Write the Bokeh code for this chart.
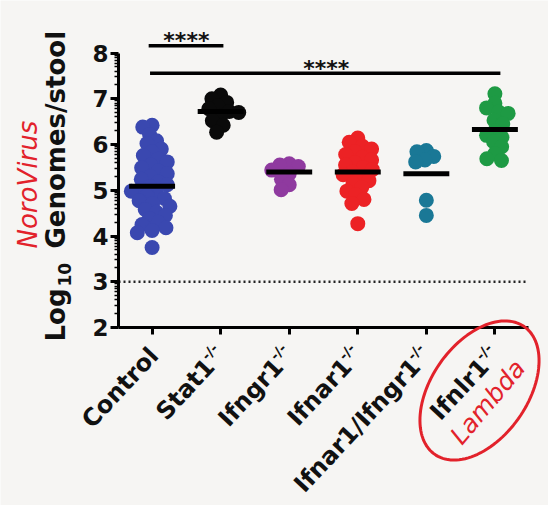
import math
import numpy as np
from bokeh.plotting import figure
from bokeh.models import Range1d, FixedTicker, Label, PolyAnnotation
from bokeh.embed import file_html
from bokeh.resources import INLINE

# ---------------- data ----------------
groups = ["Control", "Stat1", "Ifngr1", "Ifnar1", "Ifnar1/Ifngr1", "Ifnlr1"]
group_sup = ["", "-/-", "-/-", "-/-", "-/-", "-/-"]

control = [6.42, 6.38, 6.22, 6.08, 6.02, 5.90, 5.84, 5.76, 5.68, 5.62, 5.55, 5.49,
           5.42, 5.36, 5.30, 5.24, 5.18, 5.12, 5.08, 5.03, 4.98, 4.93, 4.88, 4.82,
           4.77, 4.71, 4.65, 4.58, 4.52, 4.45, 4.38, 4.30, 4.25, 4.18, 4.12, 4.07, 3.75]
stat1 = [7.08, 7.00, 6.92, 6.84, 6.78, 6.72, 6.70, 6.62, 6.52, 6.42, 6.27]
ifngr1 = [5.58, 5.55, 5.52, 5.44, 5.36, 5.24, 5.12, 5.01]
ifnar1 = [6.14, 6.05, 5.96, 5.90, 5.84, 5.78, 5.72, 5.66, 5.60, 5.55, 5.50, 5.45,
          5.40, 5.34, 5.28, 5.21, 5.14, 5.06, 4.98, 4.90, 4.80, 4.71, 4.27]
ifnar1_ifngr1 = [5.87, 5.84, 5.74, 5.66, 5.62, 4.78, 4.45]
ifnlr1 = [7.11, 6.90, 6.80, 6.71, 6.68, 6.53, 6.45, 6.30, 6.20, 6.16, 6.06, 5.95,
          5.80, 5.69, 5.65]
series = [control, stat1, ifngr1, ifnar1, ifnar1_ifngr1, ifnlr1]
center_lines = [5.09, 6.72, 5.40, 5.40, 5.36, 6.33]
colors = ["#3A48B0", "#0A0A0A", "#8F3A9F", "#EC2225", "#1A7896", "#1E9A44"]

y_ticks = [2, 3, 4, 5, 6, 7, 8]
limit_of_detection = 3
sig_bars = [(-0.05, 1.04, 8.16), (-0.03, 5.08, 7.56)]
sig_text = ["****", "****"]
sig_text_x = [0.50, 2.54]

# ---------------- geometry (frame covers the whole canvas) ----------------
W, H = 548, 505
AX_L, AX_R = -0.49, 5.49          # x-axis extent
AX_B, AX_T = 2.0, 8.0             # y-axis extent
PX_X = 410 / (AX_R - AX_L)        # px per category
PX_Y = 274.5 / (AX_T - AX_B)      # px per log unit
XS = AX_L - 118 / PX_X
XE = XS + W / PX_X
YE = AX_B + 327 / PX_Y
YS = YE - H / PX_Y


def dx(px):
    return XS + px / PX_X


def dy(py):
    return YE - py / PX_Y


def swarm(vals, d):
    ys = [v * PX_Y for v in vals]
    order = sorted(range(len(vals)), key=lambda k: -vals[k])
    placed, xs = [], [0.0] * len(vals)
    for k in order:
        y = ys[k]
        cands = [0.0]
        for (xj, yj) in placed:
            ddy = y - yj
            if abs(ddy) < d:
                w = math.sqrt(d * d - ddy * ddy)
                cands += [xj + w, xj - w]
        cands.sort(key=lambda c: (abs(c), c))
        for c in cands:
            if all((c - xj) ** 2 + (y - yj) ** 2 >= d * d - 1e-6 for xj, yj in placed):
                xs[k] = c
                placed.append((c, y))
                break
    return [x / PX_X for x in xs]


BG = "#F6F5F3"
p = figure(width=W, height=H, x_range=Range1d(XS, XE), y_range=Range1d(YS, YE),
           output_backend="svg", toolbar_location=None, min_border=0)
p.background_fill_color = BG
p.border_fill_color = BG
p.outline_line_color = None
p.xgrid.visible = False
p.ygrid.visible = False

# y axis (fixed at the left end of the x axis)
p.yaxis.fixed_location = AX_L
p.yaxis.ticker = FixedTicker(ticks=y_ticks,
                             minor_ticks=[n + math.log10(k) for n in range(2, 8) for k in range(2, 10)])
p.yaxis.bounds = (AX_B, AX_T)
p.yaxis.axis_line_width = 3
p.yaxis.major_tick_line_width = 3
p.yaxis.major_tick_out = 8
p.yaxis.major_tick_in = 0
p.yaxis.minor_tick_out = 4
p.yaxis.minor_tick_in = 0
p.yaxis.minor_tick_line_width = 1.5
p.yaxis.major_label_text_font = "DejaVu Sans"
p.yaxis.major_label_text_font_style = "bold"
p.yaxis.major_label_text_font_size = "23px"
p.yaxis.major_label_text_color = "#111111"
p.yaxis.major_label_standoff = 2

# x axis (fixed at y = 2)
p.xaxis.fixed_location = AX_B
p.xaxis.bounds = (AX_L, AX_R)
p.xaxis.ticker = FixedTicker(ticks=list(range(len(groups))))
p.xaxis.axis_line_width = 3
p.xaxis.major_tick_line_width = 3
p.xaxis.major_tick_out = 7
p.xaxis.major_tick_in = 0
p.xaxis.minor_tick_line_color = None
p.xaxis.major_label_overrides = {i: "" for i in range(len(groups))}
p.xaxis.major_label_text_font_size = "1px"

# limit of detection
p.segment(x0=[AX_L], x1=[AX_R], y0=[limit_of_detection], y1=[limit_of_detection],
          line_color="#222222", line_width=2.5, line_dash="2 3")

# points
for i, (vals, col) in enumerate(zip(series, colors)):
    offs = swarm(vals, 9.5)
    p.scatter([i + o for o in offs], vals, size=15, fill_color=col, line_color=None)

# center lines
p.segment(x0=[i - 0.335 for i in range(len(groups))], x1=[i + 0.335 for i in range(len(groups))],
          y0=center_lines, y1=center_lines, line_width=5, line_color="black")

# significance bars
p.segment(x0=[b[0] for b in sig_bars], x1=[b[1] for b in sig_bars],
          y0=[b[2] for b in sig_bars], y1=[b[2] for b in sig_bars],
          line_width=3.5, line_color="black")
for b, t, tx in zip(sig_bars, sig_text, sig_text_x):
    p.add_layout(Label(x=tx, y=b[2], y_offset=5,
                       text=t, text_align="center", text_baseline="alphabetic",
                       text_font="DejaVu Sans", text_font_style="bold",
                       text_font_size="22px", text_color="#111111"))

# rotated category labels
th = math.radians(47)
u = (math.cos(th), -math.sin(th))
n = (-math.sin(th), -math.cos(th))
EX, EY, RAISE, WSUP = 0, 24, 8, 15
for i, (g, s) in enumerate(zip(groups, group_sup)):
    ex, ey = EX, EY
    if s:
        mx, my = ex - WSUP * u[0], ey - WSUP * u[1]
    else:
        mx, my = ex + 2, ey
    p.add_layout(Label(x=i, y=AX_B, x_offset=mx, y_offset=-my, text=g, angle=th,
                       text_align="right", text_baseline="middle",
                       text_font="DejaVu Sans", text_font_style="bold",
                       text_font_size="24px", text_color="#111111"))
    if s:
        sx, sy = mx - 1 * u[0] + RAISE * n[0], my - 1 * u[1] + RAISE * n[1]
        p.add_layout(Label(x=i, y=AX_B, x_offset=sx, y_offset=-sy, text=s, angle=th,
                           text_align="left", text_baseline="middle",
                           text_font="DejaVu Sans", text_font_style="bold",
                           text_font_size="14px", text_color="#111111"))

# y axis title: Log10 Genomes/stool
yt = dict(angle=math.pi / 2, text_align="left", text_baseline="middle",
          text_font="DejaVu Sans", text_font_style="bold", text_color="#111111")
p.add_layout(Label(x=dx(55), y=dy(341), text="Log", text_font_size="26px", **yt))
p.add_layout(Label(x=dx(64), y=dy(286), text="10", text_font_size="17px", **yt))
p.add_layout(Label(x=dx(55), y=dy(248), text="Genomes/stool", text_font_size="26px", **yt))

# handwritten red annotations
RED = "#E2222B"
p.add_layout(Label(x=dx(27), y=dy(248), text="NoroVirus", angle=math.pi / 2,
                   text_align="left", text_baseline="middle",
                   text_font="DejaVu Sans", text_font_style="italic",
                   text_font_size="26px", text_color=RED))
p.add_layout(Label(x=dx(455), y=dy(440), text="Lambda", angle=math.radians(50),
                   text_align="left", text_baseline="middle",
                   text_font="DejaVu Sans", text_font_style="italic",
                   text_font_size="25px", text_color=RED))
phi = math.radians(55)
tt = np.linspace(0, 2 * math.pi, 120)
ex_px = 479 + 78 * np.cos(tt) * math.cos(phi) + 48 * np.sin(tt) * math.sin(phi)
ey_px = 390 - 78 * np.cos(tt) * math.sin(phi) + 48 * np.sin(tt) * math.cos(phi)
p.add_layout(PolyAnnotation(xs=[dx(v) for v in ex_px], ys=[dy(v) for v in ey_px],
                            fill_alpha=0, line_color=RED, line_alpha=1.0, line_width=3))

open("out.html", "w").write(file_html(p, INLINE))
